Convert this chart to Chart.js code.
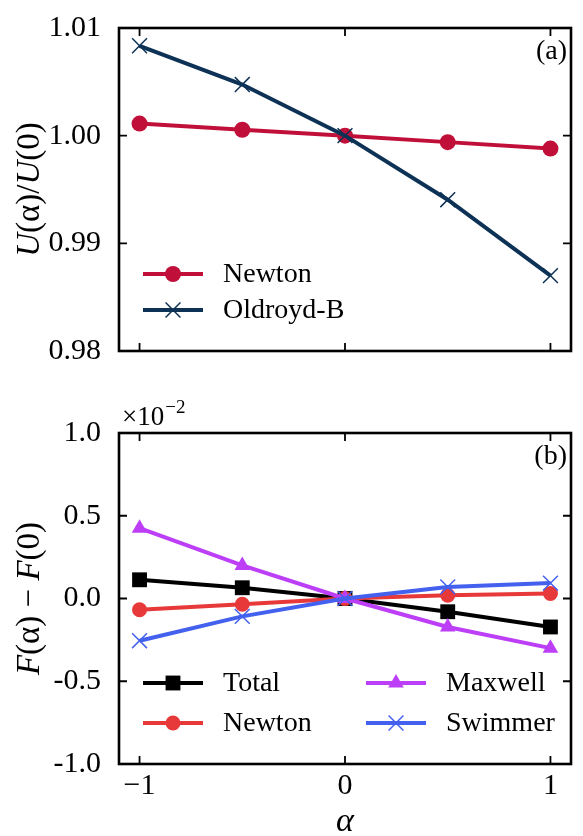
<!DOCTYPE html>
<html>
<head>
    <title>U(alpha) and F(alpha)</title>
    <script src="https://cdn.jsdelivr.net/npm/chart.js"></script>
    <style>
        body {
            margin: 0;
            background: #ffffff;
        }
        .panel {
            position: absolute;
            left: 0;
            width: 583px;
        }
        #topBox { top: 0; height: 400px; }
        #bottomBox { top: 400px; height: 436px; }
    </style>
</head>
<body>
    <div class="panel" id="topBox"><canvas id="topChart" width="583" height="400"></canvas></div>
    <div class="panel" id="bottomBox"><canvas id="bottomChart" width="583" height="436"></canvas></div>

    <script>
        // alpha values shared by both panels
        const alphas = [-1, -0.5, 0, 0.5, 1];

        // panel (a): U(alpha)/U(0)
        const newtonU = [1.00112, 1.00055, 1.0000, 0.99940, 0.99880];
        const oldroydU = [1.00835, 1.00475, 1.0000, 0.99405, 0.98700];

        // panel (b): F(alpha) - F(0), in units of 1e-2
        const totalF = [0.113, 0.065, 0.0, -0.080, -0.172];
        const newtonF = [-0.068, -0.035, 0.0, 0.020, 0.030];
        const maxwellF = [0.425, 0.200, 0.0, -0.172, -0.300];
        const swimmerF = [-0.255, -0.108, 0.0, 0.070, 0.093];

        // tick values and labels
        const xTicks = [-1, 0, 1];
        const xTickLabels = ['\u22121', '0', '1'];
        const topYTicks = [0.98, 0.99, 1.00, 1.01];
        const topYTickLabels = ['0.98', '0.99', '1.00', '1.01'];
        const bottomYTicks = [-1.0, -0.5, 0.0, 0.5, 1.0];
        const bottomYTickLabels = ['-1.0', '-0.5', '0.0', '0.5', '1.0'];

        const serif = '"Liberation Serif", "DejaVu Serif", serif';

        function pts(ys) {
            return alphas.map((a, i) => ({ x: a, y: ys[i] }));
        }

        function series(label, ys, color, style, radius, order, borderW) {
            return {
                label: label,
                data: pts(ys),
                borderColor: color,
                backgroundColor: color,
                borderWidth: 4,
                pointStyle: style,
                pointRadius: radius,
                pointHoverRadius: radius,
                pointBackgroundColor: color,
                pointBorderColor: color,
                pointBorderWidth: borderW,
                order: order,
                tension: 0
            };
        }

        // draw text made of pieces with different font styles
        function drawPieces(ctx, pieces, size, x, y, align) {
            let total = 0;
            pieces.forEach(p => {
                ctx.font = p[1] + ' ' + size + 'px ' + serif;
                total += ctx.measureText(p[0]).width;
            });
            let cx = align === 'center' ? x - total / 2 : x;
            ctx.textAlign = 'left';
            pieces.forEach(p => {
                ctx.font = p[1] + ' ' + size + 'px ' + serif;
                ctx.fillText(p[0], cx, y);
                cx += ctx.measureText(p[0]).width;
            });
            return total;
        }

        // frame, inward ticks, legend and labels
        const decorPlugin = {
            id: 'decor',
            afterDatasetsDraw(chart, args, opts) {
                const ctx = chart.ctx;
                const a = chart.chartArea;
                const xs = chart.scales.x;
                const ys = chart.scales.y;
                ctx.save();
                ctx.strokeStyle = '#000';
                ctx.lineWidth = 1.8;
                ctx.beginPath();
                xs.ticks.forEach(t => {
                    const px = xs.getPixelForValue(t.value);
                    ctx.moveTo(px, a.bottom); ctx.lineTo(px, a.bottom - 8);
                    ctx.moveTo(px, a.top); ctx.lineTo(px, a.top + 8);
                });
                ys.ticks.forEach(t => {
                    const py = ys.getPixelForValue(t.value);
                    ctx.moveTo(a.left, py); ctx.lineTo(a.left + 8, py);
                    ctx.moveTo(a.right, py); ctx.lineTo(a.right - 8, py);
                });
                ctx.stroke();
                ctx.lineWidth = 2.6;
                ctx.strokeRect(a.left, a.top, a.right - a.left, a.bottom - a.top);

                // panel label
                ctx.fillStyle = '#000';
                ctx.textBaseline = 'alphabetic';
                ctx.font = '28px ' + serif;
                ctx.textAlign = 'right';
                ctx.fillText(opts.panel, a.right - 4, a.top + 31);

                // y title, rotated
                ctx.save();
                ctx.translate(opts.yTitleX, (a.top + a.bottom) / 2);
                ctx.rotate(-Math.PI / 2);
                ctx.textBaseline = 'middle';
                drawPieces(ctx, opts.yTitle, 33, 0, 0, 'center');
                ctx.restore();

                // x title
                if (opts.xTitle) {
                    ctx.textBaseline = 'middle';
                    drawPieces(ctx, opts.xTitle, 34, (a.left + a.right) / 2, opts.xTitleY, 'center');
                }

                // offset text
                if (opts.offset) {
                    ctx.textBaseline = 'alphabetic';
                    const w = drawPieces(ctx, [['\u00d710', 'normal']], 27, a.left + 3, a.top - 8, 'left');
                    ctx.font = '19px ' + serif;
                    ctx.fillText('\u22122', a.left + 3 + w + 1, a.top - 20);
                }

                // legend
                ctx.textBaseline = 'middle';
                opts.legend.forEach(item => {
                    const ds = chart.data.datasets[item.index];
                    ctx.strokeStyle = ds.borderColor;
                    ctx.fillStyle = ds.borderColor;
                    ctx.lineWidth = 4;
                    ctx.beginPath();
                    ctx.moveTo(item.x, item.y);
                    ctx.lineTo(item.x + 60, item.y);
                    ctx.stroke();
                    ctx.lineWidth = ds.pointBorderWidth || 1;
                    Chart.helpers.drawPoint(ctx, {
                        pointStyle: ds.pointStyle,
                        radius: ds.pointRadius,
                        rotation: 0,
                        borderWidth: ds.pointBorderWidth
                    }, item.x + 30, item.y);
                    ctx.fillStyle = '#000';
                    ctx.font = '28px ' + serif;
                    ctx.textAlign = 'left';
                    ctx.fillText(ds.label, item.x + 80, item.y + 1);
                });
                ctx.restore();
            }
        };

        function makeScales(yMin, yMax, yTicks, yLabels, showX, xHeight) {
            return {
                x: {
                    type: 'linear',
                    min: -1.1,
                    max: 1.1,
                    grid: { display: false },
                    border: { display: false },
                    afterBuildTicks: s => { s.ticks = xTicks.map(v => ({ value: v })); },
                    afterFit: s => { s.height = xHeight; },
                    ticks: {
                        display: showX,
                        padding: -4,
                        color: '#000',
                        font: { family: serif, size: 30 },
                        callback: v => xTickLabels[xTicks.indexOf(v)]
                    }
                },
                y: {
                    type: 'linear',
                    min: yMin,
                    max: yMax,
                    grid: { display: false },
                    border: { display: false },
                    afterBuildTicks: s => { s.ticks = yTicks.map(v => ({ value: v })); },
                    afterFit: s => { s.width = 119; },
                    ticks: {
                        padding: 10,
                        color: '#000',
                        font: { family: serif, size: 30 },
                        callback: v => yLabels[yTicks.findIndex(t => Math.abs(t - v) < 1e-9)]
                    }
                }
            };
        }

        new Chart(document.getElementById('topChart').getContext('2d'), {
            type: 'line',
            data: {
                datasets: [
                    series('Newton', newtonU, '#c0103a', 'circle', 8, 1, 0),
                    series('Oldroyd-B', oldroydU, '#0d3255', 'crossRot', 10.5, 0, 1.5)
                ]
            },
            options: {
                responsive: false,
                animation: false,
                layout: { padding: { top: 21, right: 5 } },
                scales: makeScales(0.98, 1.01, topYTicks, topYTickLabels, false, 49),
                plugins: {
                    legend: { display: false },
                    tooltip: { enabled: false },
                    decor: {
                        panel: '(a)',
                        yTitleX: 30,
                        yTitle: [['U', 'italic'], ['(\u03b1)/', 'normal'], ['U', 'italic'], ['(0)', 'normal']],
                        legend: [
                            { index: 0, x: 143, y: 274 },
                            { index: 1, x: 143, y: 310 }
                        ]
                    }
                }
            },
            plugins: [decorPlugin]
        });

        new Chart(document.getElementById('bottomChart').getContext('2d'), {
            type: 'line',
            data: {
                datasets: [
                    series('Total', totalF, '#000000', 'rect', 10.5, 4, 0),
                    series('Newton', newtonF, '#e8393a', 'circle', 7.5, 3, 0),
                    series('Maxwell', maxwellF, '#bd3ef7', 'triangle', 9, 2, 0),
                    series('Swimmer', swimmerF, '#4361ee', 'crossRot', 10.5, 1, 1.5)
                ]
            },
            options: {
                responsive: false,
                animation: false,
                layout: { padding: { top: 33, right: 5 } },
                scales: makeScales(-1, 1, bottomYTicks, bottomYTickLabels, true, 72),
                plugins: {
                    legend: { display: false },
                    tooltip: { enabled: false },
                    decor: {
                        panel: '(b)',
                        yTitleX: 30,
                        yTitle: [['F', 'italic'], ['(\u03b1) \u2212 ', 'normal'], ['F', 'italic'], ['(0)', 'normal']],
                        xTitle: [['\u03b1', 'italic']],
                        xTitleY: 422,
                        offset: true,
                        legend: [
                            { index: 0, x: 143, y: 283 },
                            { index: 1, x: 143, y: 323 },
                            { index: 2, x: 366, y: 283 },
                            { index: 3, x: 366, y: 323 }
                        ]
                    }
                }
            },
            plugins: [decorPlugin]
        });
    </script>
</body>
</html>
